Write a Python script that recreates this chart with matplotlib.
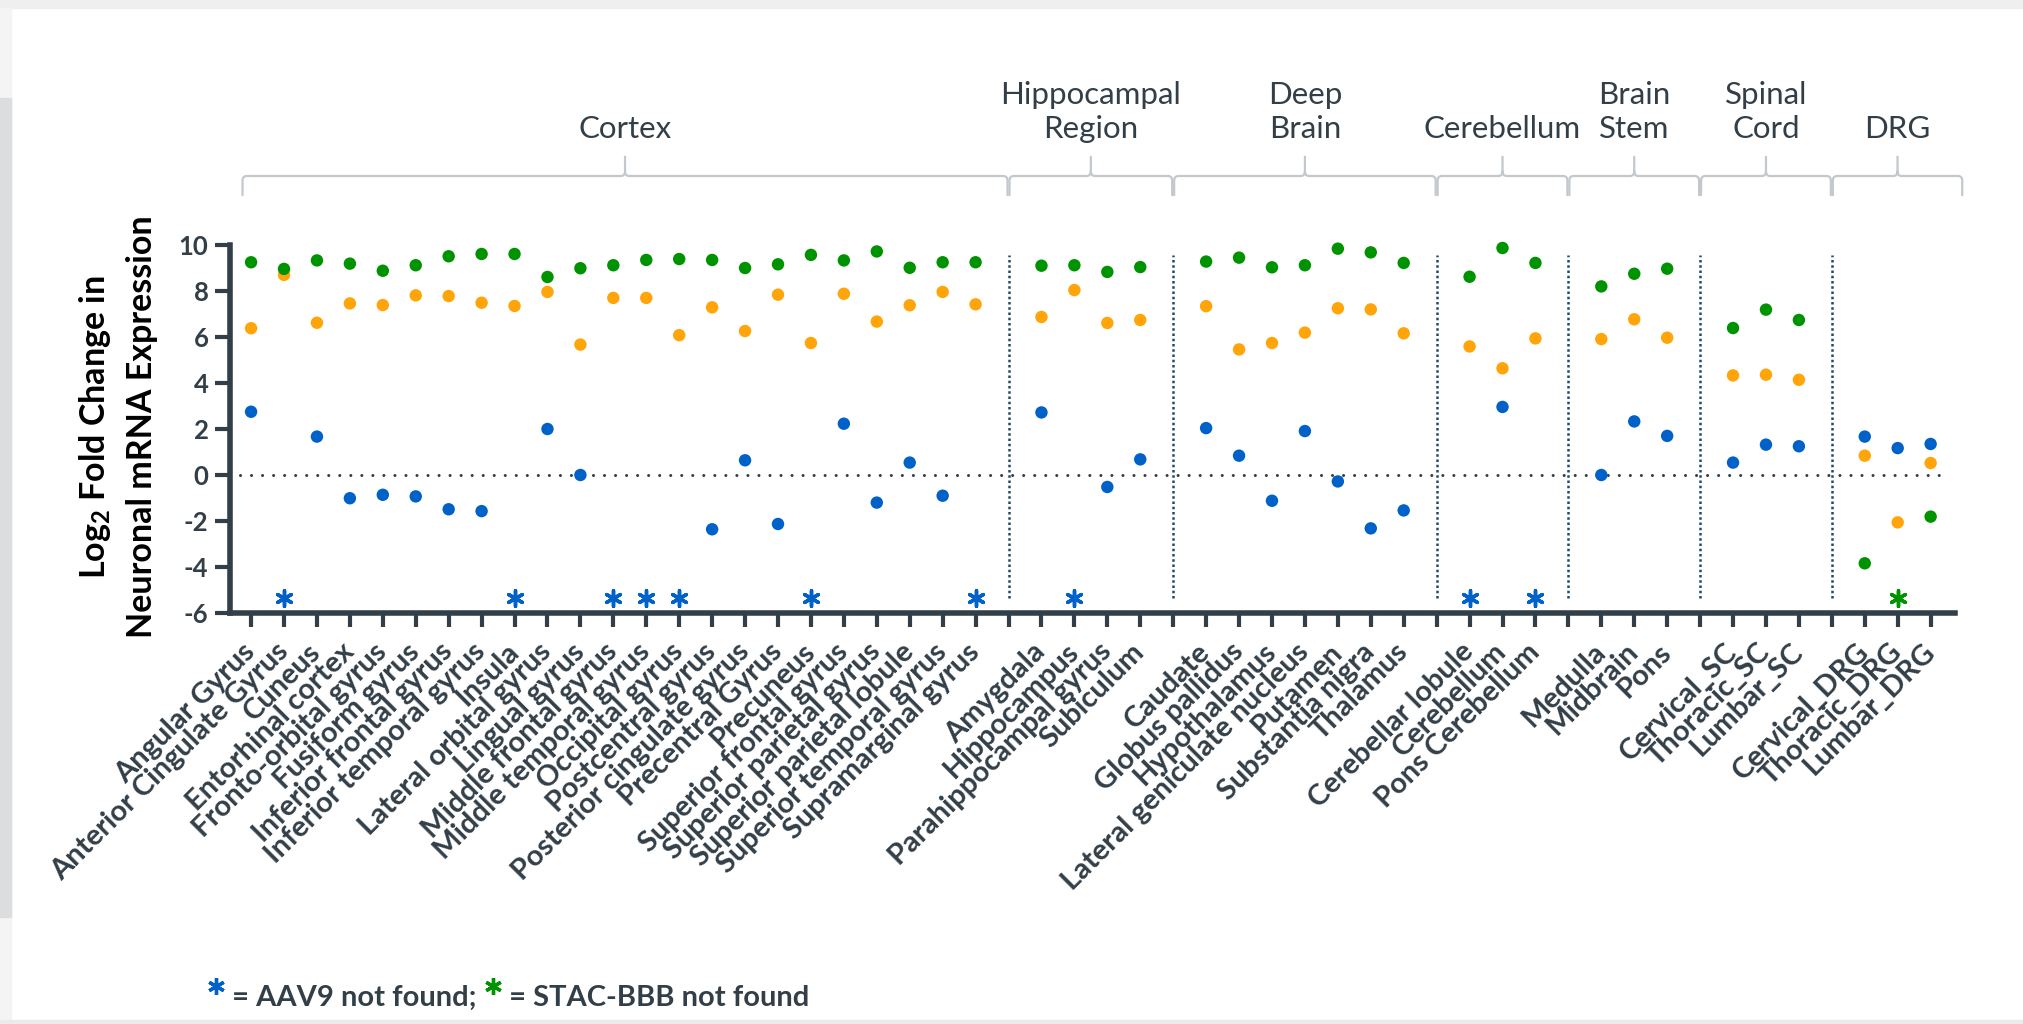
import numpy as np
import matplotlib
matplotlib.use("Agg")
import matplotlib.pyplot as plt
from matplotlib.path import Path
from matplotlib.patches import PathPatch, Rectangle
from matplotlib.lines import Line2D

plt.rcParams['font.family'] = ['Lato', 'DejaVu Sans']
plt.rcParams['mathtext.fontset'] = 'custom'
plt.rcParams['mathtext.rm'] = 'Lato'
plt.rcParams['mathtext.bf'] = 'Lato:bold'

# tissue groups and the regions sampled in each
groups = ["Cortex", "Hippocampal\nRegion", "Deep\nBrain", "Cerebellum",
          "Brain\nStem", "Spinal\nCord", "DRG"]
cortex = ["Angular Gyrus", "Anterior Cingulate Gyrus", "Cuneus", "Entorhinal cortex",
          "Fronto-orbital gyrus", "Fusiform gyrus", "Inferior frontal gyrus",
          "Inferior temporal gyrus", "Insula", "Lateral orbital gyrus", "Lingual gyrus",
          "Middle frontal gyrus", "Middle temporal gyrus", "Occipital gyrus",
          "Postcentral gyrus", "Posterior cingulate gyrus", "Precentral Gyrus",
          "Precuneus", "Superior frontal gyrus", "Superior parietal gyrus",
          "Superior parietal lobule", "Superior temporal gyrus", "Supramarginal gyrus"]
hippocampal = ["Amygdala", "Hippocampus", "Parahippocampal gyrus", "Subiculum"]
deep_brain = ["Caudate", "Globus pallidus", "Hypothalamus", "Lateral geniculate nucleus",
              "Putamen", "Substantia nigra", "Thalamus"]
cerebellum = ["Cerebellar lobule", "Cerebellum", "Pons Cerebellum"]
brain_stem = ["Medulla", "Midbrain", "Pons"]
spinal_cord = ["Cervical_SC", "Thoracic_SC", "Lumbar_SC"]
drg = ["Cervical_DRG", "Thoracic_DRG", "Lumbar_DRG"]
group_regions = [cortex, hippocampal, deep_brain, cerebellum, brain_stem, spinal_cord, drg]

# log2 fold change per region, None = capsid not found
aav9 = [2.75, None, 1.67, -1.01, -0.86, -0.93, -1.49, -1.57, None, 2.00, 0.00, None,
        None, None, -2.36, 0.64, -2.13, None, 2.23, -1.20, 0.54, -0.90, None,
        2.72, None, -0.52, 0.68,
        2.04, 0.84, -1.12, 1.91, -0.28, -2.32, -1.54,
        None, 2.96, None,
        0.00, 2.33, 1.70,
        0.54, 1.32, 1.25,
        1.67, 1.17, 1.35]
other_capsid = [6.38, 8.70, 6.62, 7.46, 7.39, 7.81, 7.78, 7.49, 7.35, 7.96, 5.67, 7.70,
                7.70, 6.08, 7.29, 6.26, 7.84, 5.74, 7.88, 6.67, 7.38, 7.96, 7.42,
                6.87, 8.04, 6.61, 6.74,
                7.34, 5.46, 5.74, 6.19, 7.25, 7.20, 6.16,
                5.59, 4.64, 5.94,
                5.91, 6.77, 5.97,
                4.33, 4.36, 4.14,
                0.84, -2.06, 0.52]
stac_bbb = [9.25, 8.96, 9.33, 9.19, 8.88, 9.12, 9.51, 9.61, 9.61, 8.61, 8.99, 9.12,
            9.35, 9.39, 9.35, 9.00, 9.16, 9.57, 9.33, 9.72, 9.01, 9.25, 9.25,
            9.10, 9.12, 8.83, 9.04,
            9.28, 9.45, 9.03, 9.12, 9.84, 9.68, 9.22,
            8.62, 9.87, 9.22,
            8.20, 8.75, 8.97,
            6.39, 7.19, 6.74,
            -3.84, None, -1.81]

yticks = [-6, -4, -2, 0, 2, 4, 6, 8, 10]

dark = '#333F48'
blue = '#0061C9'
orange = '#FFA50A'
green = '#009300'
brace_col = '#C3C8CC'

# slot positions: one empty slot between groups
xpos, gaps, labels = [], [], []
pos = 0
for regs in group_regions:
    for r in regs:
        xpos.append(pos)
        labels.append(r)
        pos += 1
    gaps.append(pos)
    labels.append("")
    pos += 1
gaps = gaps[:-1]
labels = labels[:-1]
n_slots = len(labels)
xpos = np.array(xpos)

W, H = 2023, 1024
fig = plt.figure(figsize=(W / 100, H / 100), dpi=100)

# page frame
fig.patches.append(Rectangle((0, 1 - 8 / H), 1, 8 / H, transform=fig.transFigure,
                             color='#EFEFEF', zorder=0))
fig.patches.append(Rectangle((0, 0), 11 / W, 1 - 8 / H, transform=fig.transFigure,
                             color='#F4F4F4', zorder=0))
fig.patches.append(Rectangle((0, 1 - 917 / H), 11 / W, (917 - 98) / H,
                             transform=fig.transFigure, color='#DCDDDF', zorder=0))
fig.patches.append(Rectangle((0, 0), 1, 4 / H, transform=fig.transFigure,
                             color='#EBEBEB', zorder=0))

ax = fig.add_axes([230 / W, 411 / H, 1725 / W, 368 / H])
ax.set_facecolor('none')
ax.set_xlim(-0.64, 51.74)
ax.set_ylim(-6, 10)

for s in ['top', 'right']:
    ax.spines[s].set_visible(False)
ax.spines['left'].set_linewidth(4)
ax.spines['bottom'].set_linewidth(4)
ax.spines['left'].set_color(dark)
ax.spines['bottom'].set_color(dark)

ax.set_yticks(yticks)
ax.set_yticklabels([str(t) for t in yticks], fontweight='bold', fontsize=18.5, color=dark)
ax.tick_params(axis='y', length=11, width=3, color=dark, pad=4.5)
ax.set_xticks(range(n_slots))
ax.set_xticklabels(labels, rotation=45, ha='right', va='center', rotation_mode='anchor',
                   fontweight='bold', fontsize=21, color=dark)
ax.tick_params(axis='x', length=10, width=3, color=dark, pad=15)

# zero line and group separators
ax.plot([-0.33, 51.45], [0, 0], color=dark, lw=2.2, linestyle=(0, (0.01, 3.6)),
        dash_capstyle='round', zorder=2)
for g in gaps:
    ax.plot([g, g], [-5.35, 9.58], color='#1F4A6B', lw=1.8, linestyle=(0, (1, 1.1)),
            zorder=2)

series = [(other_capsid, orange, 3), (stac_bbb, green, 4), (aav9, blue, 5)]
for vals, col, z in series:
    v = np.array(vals, dtype=float)
    ax.scatter(xpos, v, s=80, color=col, edgecolors='none', zorder=z, clip_on=False)
    miss = np.isnan(v)
    ax.scatter(xpos[miss], np.full(miss.sum(), -5.35), marker=(6, 2, 0), s=125,
               color=col, linewidths=2.5, zorder=z, clip_on=False)

# group braces and titles
starts = [-0.26] + [g + 0.03 for g in gaps]
ends = [g - 0.03 for g in gaps] + [51.96]
rx, ry = 0.13, 0.2
for name, x0, x1 in zip(groups, starts, ends):
    xm = (x0 + x1) / 2
    verts = [(x0, 12.17), (x0, 13.0 - ry), (x0, 13.0), (x0 + rx, 13.0),
             (xm - rx, 13.0), (xm, 13.0), (xm, 13.0 + ry), (xm, 13.84),
             (xm, 13.0 + ry), (xm, 13.0), (xm + rx, 13.0),
             (x1 - rx, 13.0), (x1, 13.0), (x1, 13.0 - ry), (x1, 12.17)]
    codes = [Path.MOVETO, Path.LINETO, Path.CURVE3, Path.CURVE3,
             Path.LINETO, Path.CURVE3, Path.CURVE3, Path.LINETO,
             Path.MOVETO, Path.CURVE3, Path.CURVE3,
             Path.LINETO, Path.CURVE3, Path.CURVE3, Path.LINETO]
    ax.add_patch(PathPatch(Path(verts, codes), facecolor='none', edgecolor=brace_col,
                           lw=1.6, clip_on=False, capstyle='round'))
    ax.text(xm, 14.45, name, ha='center', va='bottom', fontsize=22.5, color=dark,
            linespacing=1.25, clip_on=False)

fig.text(118 / W, 1 - 427 / H, "Log$_{\\mathbf{2}}$ Fold Change in\nNeuronal mRNA Expression",
         rotation=90, ha='center', va='center', fontsize=24.5, fontweight='bold',
         color='black', linespacing=1.5, multialignment='center')

# footnote with coloured asterisks
renderer = fig.canvas.get_renderer()
x = 216 / W
y_txt = 1 - 1006 / H
y_star = 1 - 986 / H
for col, txt in [(blue, " = AAV9 not found; "), (green, " = STAC-BBB not found")]:
    fig.add_artist(Line2D([x], [y_star], marker=(6, 2, 0), markersize=12, mew=2.4,
                          color=col, transform=fig.transFigure))
    t = fig.text(x + 9 / W, y_txt, txt, ha='left', va='baseline', fontsize=21,
                 fontweight='bold', color=dark)
    bb = t.get_window_extent(renderer)
    x = (bb.x1 + 9) / W

fig.savefig('out.png', dpi=100, facecolor='white')
